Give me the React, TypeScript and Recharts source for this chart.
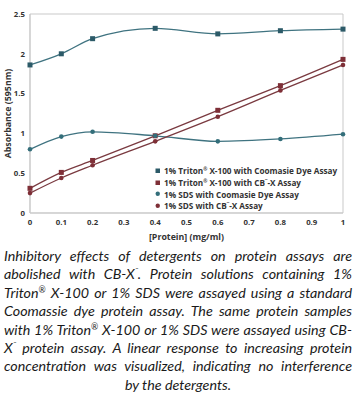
import React from "react";
import { LineChart, Line, XAxis, YAxis, ReferenceArea, Label } from "recharts";

const protein = [0, 0.1, 0.2, 0.4, 0.6, 0.8, 1.0];
const tritonCoomassie = [1.86, 2.0, 2.19, 2.32, 2.25, 2.29, 2.31];
const tritonCBX = [0.31, 0.51, 0.66, 0.97, 1.29, 1.6, 1.93];
const sdsCoomassie = [0.8, 0.96, 1.02, 0.97, 0.9, 0.93, 0.99];
const sdsCBX = [0.25, 0.44, 0.6, 0.9, 1.21, 1.54, 1.86];
const xTicks = [0, 0.1, 0.2, 0.3, 0.4, 0.5, 0.6, 0.7, 0.8, 0.9, 1];
const yTicks = [0, 0.5, 1, 1.5, 2, 2.5];
const seriesNames = [
  "1% Triton\u00AE X-100 with Coomasie Dye Assay",
  "1% Triton\u00AE X-100 with CB\u00AF-X Assay",
  "1% SDS with Coomasie Dye Assay",
  "1% SDS with CB\u00AF-X Assay",
];
const captionLines = [
  "Inhibitory effects of detergents on protein assays are",
  "abolished with CB-X\u00AF. Protein solutions containing 1%",
  "Triton\u00AE X-100 or 1% SDS were assayed using a standard",
  "Coomassie dye protein assay. The same protein samples",
  "with 1% Triton\u00AE X-100 or 1% SDS were assayed using CB-",
  "X\u00AF protein assay. A linear response to increasing protein",
  "concentration was visualized, indicating no interference",
  "by the detergents.",
];

const data = protein.map((p, i) => ({
  p,
  tc: tritonCoomassie[i],
  tx: tritonCBX[i],
  sc: sdsCoomassie[i],
  sx: sdsCBX[i],
}));

const TEAL_SQ = "#2c5a68";
const TEAL_CI = "#336e7a";
const RED = "#7e2f37";
const LINE_TEAL = "#3f7380";
const LINE_RED = "#7a3a40";

const SquareDot = (color: string) => (props: any) => {
  const { cx, cy, index } = props;
  if (cx == null || cy == null) return <g key={index} />;
  return <rect key={index} x={cx - 2.5} y={cy - 2.5} width={5} height={5} fill={color} />;
};
const CircleDot = (color: string) => (props: any) => {
  const { cx, cy, index } = props;
  if (cx == null || cy == null) return <g key={index} />;
  return <circle key={index} cx={cx} cy={cy} r={2.3} fill={color} />;
};

const legendItems = [
  { name: seriesNames[0], color: TEAL_SQ, shape: "square" },
  { name: seriesNames[1], color: RED, shape: "square" },
  { name: seriesNames[2], color: TEAL_CI, shape: "circle" },
  { name: seriesNames[3], color: RED, shape: "circle" },
];

// render ® and ¯ as small superscripts
const fancy = (s: string) => {
  const parts: React.ReactNode[] = [];
  let buf = "";
  let k = 0;
  for (const ch of s) {
    if (ch === "\u00AE" || ch === "\u00AF") {
      if (buf) parts.push(buf);
      buf = "";
      parts.push(
        <span key={k++} style={{ fontSize: "0.6em", verticalAlign: ch === "\u00AE" ? "0.6em" : "0.5em", lineHeight: 0 }}>
          {ch}
        </span>
      );
    } else buf += ch;
  }
  if (buf) parts.push(buf);
  return parts;
};

const tickStyle = { fontFamily: "'Open Sans', sans-serif", fontWeight: 700, fontSize: 7.8, fill: "#333" };
const labelStyle = { fontFamily: "'Open Sans', sans-serif", fontWeight: 700, fontSize: 8.8, fill: "#333" };

export default function App() {
  return (
    <div style={{ position: "absolute", left: 0, top: 0, width: 356, height: 400, background: "#fff" }}>
      <LineChart
        width={356}
        height={242}
        data={data}
        margin={{ top: 14, right: 13, left: 0, bottom: 2 }}
      >
        <XAxis
          dataKey="p"
          type="number"
          domain={[0, 1]}
          ticks={xTicks}
          tickFormatter={(v: number) => String(Math.round(v * 10) / 10)}
          tick={tickStyle}
          tickLine={false}
          tickSize={0}
          tickMargin={6}
          axisLine={{ stroke: "#c9c9c9" }}
          height={27}
        >
          <Label value="[Protein] (mg/ml)" position="insideBottom" offset={0} style={labelStyle} />
        </XAxis>
        <YAxis
          type="number"
          domain={[0, 2.5]}
          ticks={yTicks}
          tick={tickStyle}
          tickLine={false}
          tickSize={0}
          tickMargin={5}
          axisLine={{ stroke: "#c9c9c9" }}
          width={30}
        >
          <Label
            value="Absorbance (595nm)"
            angle={-90}
            position="insideLeft"
            offset={8}
            style={{ ...labelStyle, textAnchor: "middle" }}
          />
        </YAxis>
        <ReferenceArea x1={0} x2={1} y1={0} y2={2.5} fill="none" stroke="#c9c9c9" strokeWidth={1} ifOverflow="visible" />
        <Line type="monotone" dataKey="tc" name={seriesNames[0]} stroke={LINE_TEAL} strokeWidth={1.3} dot={SquareDot(TEAL_SQ)} isAnimationActive={false} />
        <Line type="monotone" dataKey="tx" name={seriesNames[1]} stroke={LINE_RED} strokeWidth={1.3} dot={SquareDot(RED)} isAnimationActive={false} />
        <Line type="monotone" dataKey="sc" name={seriesNames[2]} stroke={LINE_TEAL} strokeWidth={1.3} dot={CircleDot(TEAL_CI)} isAnimationActive={false} />
        <Line type="monotone" dataKey="sx" name={seriesNames[3]} stroke={LINE_RED} strokeWidth={1.3} dot={CircleDot(RED)} isAnimationActive={false} />
      </LineChart>
      <div
        style={{
          position: "absolute",
          left: 154,
          top: 165,
          fontFamily: "'Open Sans', sans-serif",
          fontWeight: 700,
          fontSize: 8.2,
          color: "#333",
        }}
      >
        {legendItems.map((it) => (
          <div key={it.name} style={{ display: "flex", alignItems: "center", height: 11.7, whiteSpace: "nowrap" }}>
            <svg width={8} height={8} style={{ marginRight: 2 }}>
              {it.shape === "square" ? (
                <rect x={1.5} y={1.5} width={4.5} height={4.5} fill={it.color} />
              ) : (
                <circle cx={3.75} cy={3.75} r={2.2} fill={it.color} />
              )}
            </svg>
            <span>{fancy(it.name)}</span>
          </div>
        ))}
      </div>
      <div
        style={{
          position: "absolute",
          left: 4,
          top: 247,
          width: 348,
          fontFamily: "Lato, sans-serif",
          fontStyle: "italic",
          fontSize: 14.3,
          lineHeight: "18.4px",
          color: "#1a1a1a",
        }}
      >
        {captionLines.map((line, i) => (
          <div
            key={i}
            style={{
              whiteSpace: "nowrap",
              height: 18.4,
              textAlign: i === captionLines.length - 1 ? "center" : "justify",
              textAlignLast: i === captionLines.length - 1 ? "center" : "justify",
            }}
          >
            {fancy(line)}
          </div>
        ))}
      </div>
    </div>
  );
}
